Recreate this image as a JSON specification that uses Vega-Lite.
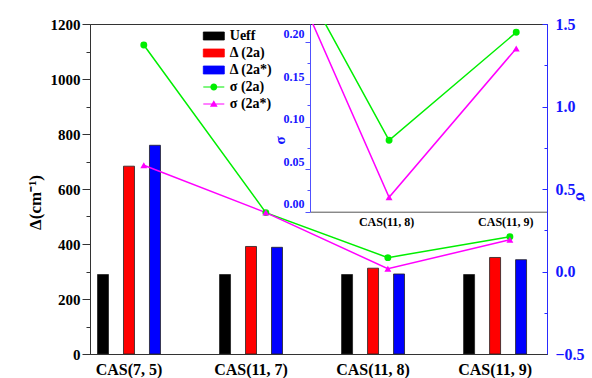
{
  "$schema": "https://vega.github.io/schema/vega-lite/v6.json",
  "width": 457,
  "height": 330,
  "autosize": {"type": "none"},
  "padding": {"left": 90, "top": 24, "right": 45, "bottom": 24},
  "background": "white",
  "config": {
    "view": {"stroke": "#333", "strokeWidth": 1},
    "font": "Liberation Serif",
    "axis": {"grid": false, "labelFont": "Liberation Serif", "titleFont": "Liberation Serif", "labelFontWeight": "bold", "titleFontWeight": "bold"}
  },
  "datasets": {
    "bars": [
      {"compound": "CAS(7, 5)", "series": "Ueff", "value": 289},
      {"compound": "CAS(7, 5)", "series": "Δ (2a)", "value": 683},
      {"compound": "CAS(7, 5)", "series": "Δ (2a*)", "value": 759},
      {"compound": "CAS(11, 7)", "series": "Ueff", "value": 289},
      {"compound": "CAS(11, 7)", "series": "Δ (2a)", "value": 391},
      {"compound": "CAS(11, 7)", "series": "Δ (2a*)", "value": 388},
      {"compound": "CAS(11, 8)", "series": "Ueff", "value": 289},
      {"compound": "CAS(11, 8)", "series": "Δ (2a)", "value": 312},
      {"compound": "CAS(11, 8)", "series": "Δ (2a*)", "value": 291},
      {"compound": "CAS(11, 9)", "series": "Ueff", "value": 289},
      {"compound": "CAS(11, 9)", "series": "Δ (2a)", "value": 351},
      {"compound": "CAS(11, 9)", "series": "Δ (2a*)", "value": 343}
    ],
    "sigma": [
      {"compound": "CAS(7, 5)", "idx": 1, "series": "σ (2a)", "sigma": 1.373},
      {"compound": "CAS(11, 7)", "idx": 2, "series": "σ (2a)", "sigma": 0.357},
      {"compound": "CAS(11, 8)", "idx": 3, "series": "σ (2a)", "sigma": 0.084},
      {"compound": "CAS(11, 9)", "idx": 4, "series": "σ (2a)", "sigma": 0.211},
      {"compound": "CAS(7, 5)", "idx": 1, "series": "σ (2a*)", "sigma": 0.644},
      {"compound": "CAS(11, 7)", "idx": 2, "series": "σ (2a*)", "sigma": 0.357},
      {"compound": "CAS(11, 8)", "idx": 3, "series": "σ (2a*)", "sigma": 0.017},
      {"compound": "CAS(11, 9)", "idx": 4, "series": "σ (2a*)", "sigma": 0.192}
    ]
  },
  "layer": [
    {
      "data": {"name": "bars"},
      "mark": {"type": "bar", "stroke": "#222", "strokeWidth": 0.8},
      "encoding": {
        "x": {
          "field": "compound", "type": "nominal", "sort": null,
          "scale": {"type": "band", "domain": ["CAS(7, 5)", "CAS(11, 7)", "CAS(11, 8)", "CAS(11, 9)"], "paddingInner": 0.361, "paddingOuter": 0.053, "align": 0},
          "axis": {
            "title": null, "orient": "bottom", "offset": 0, "labelAngle": 0, "ticks": false,
            "domainColor": "#333", "labelFontSize": 16, "labelColor": "black",
            "labelPadding": 7, "zindex": 1,
            "encode": {"labels": {"update": {"dy": {"signal": "datum.value === 'CAS(11, 7)' || datum.value === 'CAS(11, 9)' ? 3 : 0"}}}}
          }
        },
        "xOffset": {
          "field": "series", "type": "nominal", "sort": null,
          "scale": {"domain": ["Ueff", "Δ (2a)", "Δ (2a*)"], "paddingInner": 0.577, "paddingOuter": 0.289}
        },
        "y": {
          "field": "value", "type": "quantitative",
          "scale": {"domain": [0, 1200], "nice": false},
          "axis": {
            "title": "Δ(cm⁻¹)", "orient": "left",
            "values": [0, 100, 200, 300, 400, 500, 600, 700, 800, 900, 1000, 1100, 1200],
            "labelExpr": "datum.value % 200 === 0 ? datum.label : ''",
            "format": "d",
            "tickSize": {"condition": {"test": "datum.value % 200 === 0", "value": 8}, "value": 4},
            "tickColor": "#333", "domainColor": "#333",
            "labelFontSize": 15, "labelColor": "black", "labelPadding": 2,
            "titleFontSize": 17, "titleColor": "black", "titlePadding": 6, "titleY": 178
          }
        },
        "color": {
          "field": "series", "type": "nominal",
          "scale": {"domain": ["Ueff", "Δ (2a)", "Δ (2a*)", "σ (2a)", "σ (2a*)"], "range": ["#000000", "#ff0000", "#0000ff", "#00ee00", "#ff00ff"]},
          "legend": {
            "orient": "none", "legendX": 116.8, "legendY": 5, "title": null, "padding": 0,
            "symbolSize": 196, "labelOffset": 9, "rowPadding": 3,
            "labelFont": "Liberation Serif", "labelFontWeight": "bold", "labelFontSize": 14, "labelColor": "black",
            "symbolOpacity": 1,
            "symbolType": {"expr": "datum.value === 'σ (2a)' ? 'M-1.5,-0.08H1.5V0.08H-1.5Z M0.5,0A0.5,0.5 0 1,1 -0.5,0A0.5,0.5 0 1,1 0.5,0Z' : datum.value === 'σ (2a*)' ? 'M-1.5,-0.08H1.5V0.08H-1.5Z M0,-0.55L0.55,0.4L-0.55,0.4Z' : 'M-1.5,-0.57H1.5V0.57H-1.5Z'"},
            "symbolStrokeColor": "#222",
            "symbolStrokeWidth": {"expr": "indexof(['Ueff', 'Δ (2a)', 'Δ (2a*)'], datum.value) >= 0 ? 0.8 : 0"}
          }
        }
      }
    },
    {
      "data": {"name": "sigma"},
      "mark": {"type": "line", "strokeWidth": 1.5},
      "encoding": {
        "x": {
          "field": "compound", "type": "nominal", "sort": null, "bandPosition": 0.69,
          "scale": {"type": "band", "domain": ["CAS(7, 5)", "CAS(11, 7)", "CAS(11, 8)", "CAS(11, 9)"], "paddingInner": 0.361, "paddingOuter": 0.053, "align": 0},
          "axis": null
        },
        "y": {
          "field": "sigma", "type": "quantitative",
          "scale": {"domain": [-0.5, 1.5], "nice": false, "zero": false},
          "axis": {
            "title": "σ", "orient": "right",
            "values": [-0.5, -0.25, 0, 0.25, 0.5, 0.75, 1, 1.25, 1.5],
            "labelExpr": "datum.value % 0.5 === 0 ? format(datum.value, '.1f') : ''",
            "tickSize": {"condition": {"test": "datum.value % 0.5 === 0", "value": -5}, "value": -3},
            "tickColor": "#2a2aff", "domainColor": "#2a2aff",
            "labelColor": "#1515ff", "labelFontSize": 16, "labelPadding": 13,
            "titleColor": "#1515ff", "titleFontSize": 17, "titleX": 33, "titleBaseline": "middle", "titleY": 172
          }
        },
        "color": {"field": "series", "type": "nominal", "legend": null},
        "order": {"field": "idx", "type": "quantitative"}
      }
    },
    {
      "data": {"name": "sigma"},
      "mark": {"type": "point", "filled": true, "opacity": 1, "size": 48},
      "encoding": {
        "x": {
          "field": "compound", "type": "nominal", "sort": null, "bandPosition": 0.69,
          "scale": {"type": "band", "domain": ["CAS(7, 5)", "CAS(11, 7)", "CAS(11, 8)", "CAS(11, 9)"], "paddingInner": 0.361, "paddingOuter": 0.053, "align": 0},
          "axis": null
        },
        "y": {
          "field": "sigma", "type": "quantitative",
          "scale": {"domain": [-0.5, 1.5], "nice": false, "zero": false},
          "axis": null
        },
        "color": {"field": "series", "type": "nominal", "legend": null},
        "shape": {"field": "series", "type": "nominal", "scale": {"domain": ["σ (2a)", "σ (2a*)"], "range": ["circle", "triangle-up"]}, "legend": null}
      }
    },
    {
      "data": {"name": "sigma"},
      "mark": {"type": "line", "strokeWidth": 1.5, "clip": true},
      "encoding": {
        "x": {
          "field": "idx", "type": "quantitative",
          "scale": {"domain": [2.378, 4.242], "range": [220, 457], "nice": false, "zero": false},
          "axis": {
            "title": null, "orient": "bottom", "offset": -142.3, "values": [3, 4],
            "labelExpr": "datum.value === 3 ? 'CAS(11, 8)' : 'CAS(11, 9)'",
            "ticks": false, "domainColor": "#555", "labelFontSize": 12, "labelColor": "black", "labelPadding": 5,
            "labelOffset": {"condition": {"test": "datum.value === 4", "value": -11}, "value": -3}
          }
        },
        "y": {
          "field": "sigma", "type": "quantitative",
          "scale": {"domain": [0, 0.2208], "range": [187.7, 0], "nice": false, "zero": false},
          "axis": {
            "title": "σ", "orient": "left", "offset": -220,
            "values": [0, 0.025, 0.05, 0.075, 0.1, 0.125, 0.15, 0.175, 0.2],
            "labelExpr": "abs(datum.value * 20 - round(datum.value * 20)) < 1e-6 ? format(datum.value, '.2f') : ''",
            "tickSize": {"condition": {"test": "abs(datum.value * 20 - round(datum.value * 20)) < 1e-6", "value": 5}, "value": 3},
            "labelOffset": -8, "labelPadding": 1,
            "domainColor": "#5050ff", "tickColor": "#5050ff",
            "labelColor": "#1515ff", "labelFontSize": 12,
            "titleColor": "#1515ff", "titleFontSize": 15, "titlePadding": -4, "titleY": 116
          }
        },
        "color": {"field": "series", "type": "nominal", "legend": null}
      }
    },
    {
      "data": {"name": "sigma"},
      "mark": {"type": "point", "filled": true, "opacity": 1, "size": 48, "clip": true},
      "encoding": {
        "x": {
          "field": "idx", "type": "quantitative",
          "scale": {"domain": [2.378, 4.242], "range": [220, 457], "nice": false, "zero": false},
          "axis": null
        },
        "y": {
          "field": "sigma", "type": "quantitative",
          "scale": {"domain": [0, 0.2208], "range": [187.7, 0], "nice": false, "zero": false},
          "axis": null
        },
        "color": {"field": "series", "type": "nominal", "legend": null},
        "shape": {"field": "series", "type": "nominal", "scale": {"domain": ["σ (2a)", "σ (2a*)"], "range": ["circle", "triangle-up"]}, "legend": null}
      }
    }
  ],
  "resolve": {"scale": {"x": "independent", "y": "independent"}}
}
